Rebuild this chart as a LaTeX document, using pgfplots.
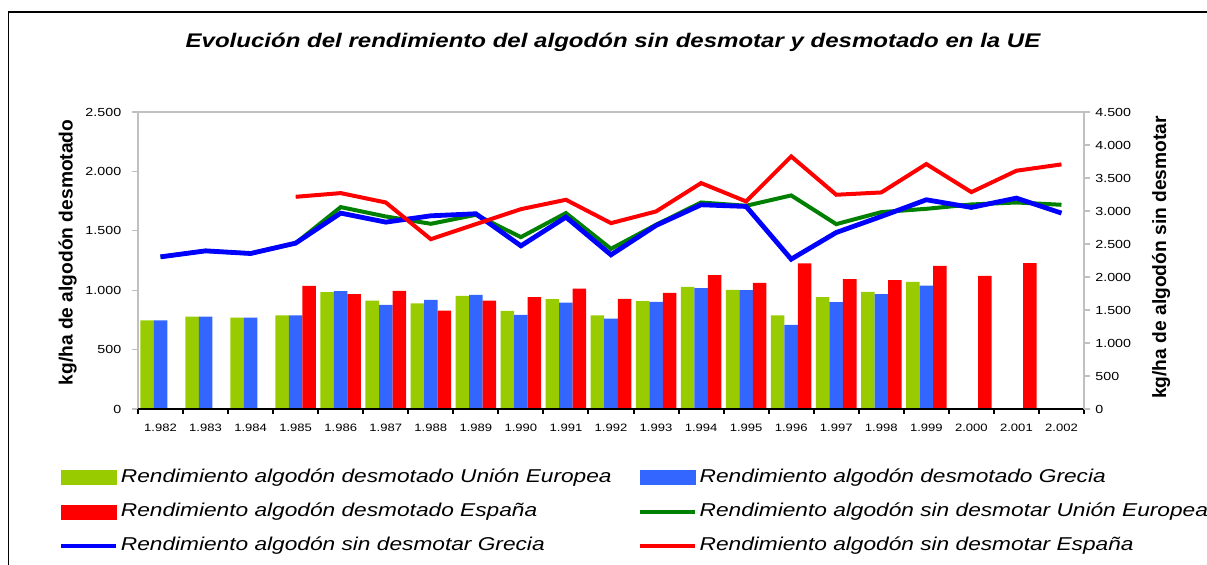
\documentclass[border=0pt]{standalone}
\usepackage{fontspec}
\setmainfont[FakeStretch=1.22]{Liberation Sans}
\newfontfamily\labfont{Liberation Sans}
\usepackage{pgfplots}
\usepackage{pgfplotstable}
\pgfplotsset{compat=1.18}
\definecolor{barG}{HTML}{99CC00}
\definecolor{barB}{HTML}{3366FF}
\definecolor{barR}{HTML}{FF0000}
\definecolor{linG}{HTML}{008000}
\definecolor{linB}{HTML}{0000FF}
\definecolor{linR}{HTML}{FF0000}
\definecolor{axgray}{HTML}{C0C0C0}

\pgfplotstableread{
x ueb grb esb uel grl esl
0 745 745 nan 2305 2305 nan
1 778 778 nan 2396 2396 nan
2 770 770 nan 2356 2356 nan
3 787 787 1037 2513 2513 3215
4 983 992 966 3059 2968 3271
5 913 876 994 2917 2831 3129
6 888 919 829 2806 2927 2573
7 952 961 913 2942 2958 2801
8 826 792 941 2604 2472 3028
9 924 896 1014 2968 2907 3170
10 789 761 927 2427 2336 2816
11 907 902 978 2791 2781 2993
12 1028 1017 1126 3129 3094 3423
13 1003 1000 1062 3079 3069 3145
14 789 708 1225 3236 2270 3827
15 941 899 1093 2801 2674 3246
16 986 966 1084 2983 2917 3281
17 1070 1039 1205 3033 3170 3711
18 nan nan 1121 3099 3054 3286
19 nan nan 1228 3129 3195 3610
20 nan nan nan 3094 2968 3706
}\data

\pgfplotsset{
  barsw/.style={legend image code/.code={\fill[#1] (0pt,-3.5pt) rectangle (27.5pt,3.5pt);}},
  linesw/.style={legend image code/.code={\draw[#1, line width=2pt] (0pt,0pt) -- (27.5pt,0pt);}},
}

\begin{document}
\begin{tikzpicture}
\useasboundingbox (0,0) rectangle (603.5pt,282.5pt);
\draw[black, line width=0.6pt] (4.15pt,-2pt) -- (4.15pt,276.5pt) -- (606pt,276.5pt);
\node[font=\fontsize{9.85}{11}\selectfont\bfseries\itshape, anchor=base] at (306.5pt,258.85pt)
  {Evolución del rendimiento del algodón sin desmotar y desmotado en la UE};

% bars, left axis
\begin{axis}[
  at={(69pt,78pt)}, anchor=south west, scale only axis,
  width=473pt, height=148.5pt,
  xmin=-0.5, xmax=20.5, ymin=0, ymax=2500,
  xtick=\empty,
  ytick={0,500,...,2500},
  ytick pos=left,
  tick align=outside,
  major tick length=3pt,
  every tick/.style={axgray, line width=0.6pt},
  axis line style={axgray, line width=0.75pt},
  /pgf/number format/assume math mode=true,
  /pgf/number format/1000 sep={.},
  yticklabel style={font=\fontsize{5.85}{7}\selectfont, inner sep=0pt, xshift=-5.2pt},
  ylabel={\labfont\bfseries kg/ha de algodón desmotado},
  ylabel style={font=\fontsize{9.6}{11}\selectfont, at={(axis description cs:-0.069,0.527)}, anchor=base, rotate=0},
  ybar, bar width=0.3,
  clip=false,
]
\addplot[fill=barG, draw=none, bar shift=-0.3] table[x=x, y=ueb] {\data};
\addplot[fill=barB, draw=none, bar shift=0] table[x=x, y=grb] {\data};
\addplot[fill=barR, draw=none, bar shift=0.3] table[x=x, y=esb] {\data};
\end{axis}

% lines, right axis
\begin{axis}[
  at={(69pt,78pt)}, anchor=south west, scale only axis,
  width=473pt, height=148.5pt,
  xmin=-0.5, xmax=20.5, ymin=0, ymax=4500,
  axis x line*=bottom, axis y line*=right,
  x axis line style={black, line width=1pt, -},
  y axis line style={axgray, line width=0.75pt, -},
  xtick={0,...,20},
  xticklabels={1.982,1.983,1.984,1.985,1.986,1.987,1.988,1.989,1.990,1.991,1.992,1.993,1.994,1.995,1.996,1.997,1.998,1.999,2.000,2.001,2.002},
  major x tick style={draw=none},
  minor xtick={-0.5,0.5,...,20.5},
  minor x tick style={black, line width=1pt},
  minor tick length=2.5pt,
  xticklabel style={font=\fontsize{5.35}{6}\selectfont, inner sep=0pt, yshift=-4.5pt},
  ytick={0,500,...,4500},
  major y tick style={axgray, line width=0.6pt},
  tick align=outside,
  major tick length=3pt,
  /pgf/number format/assume math mode=true,
  /pgf/number format/1000 sep={.},
  yticklabel style={font=\fontsize{5.85}{7}\selectfont, inner sep=0pt, xshift=2.5pt},
  ylabel={\labfont\bfseries kg/ha de algodón sin desmotar},
  ylabel style={font=\fontsize{9.6}{11}\selectfont, at={(axis description cs:1.0867,0.51)}, anchor=base, rotate=0},
  legend columns=2,
  legend style={at={(axis description cs:-0.0835,-0.1936)}, anchor=north west, draw=none, fill=none,
    inner sep=0pt, font=\fontsize{9.3}{10}\selectfont\itshape,
    nodes={inner sep=1.25pt, text height=6.5pt, text depth=1.9pt},
    row sep=6.2pt,
    /tikz/every odd column/.append style={column sep=0pt},
    /tikz/every even column/.append style={column sep=12pt}},
  legend cell align=left,
  clip=false,
]
\addlegendimage{barsw=barG}
\addlegendentry{Rendimiento algodón desmotado Unión Europea}
\addlegendimage{barsw=barB}
\addlegendentry{Rendimiento algodón desmotado Grecia}
\addlegendimage{barsw=barR}
\addlegendentry{Rendimiento algodón desmotado España}
\addplot[linG, line width=2pt, linesw=linG] table[x=x, y=uel] {\data};
\addlegendentry{Rendimiento algodón sin desmotar Unión Europea}
\addplot[linB, line width=2.4pt, linesw=linB] table[x=x, y=grl] {\data};
\addlegendentry{Rendimiento algodón sin desmotar Grecia}
\addplot[linR, line width=2pt, linesw=linR] table[x=x, y=esl] {\data};
\addlegendentry{Rendimiento algodón sin desmotar España}
\end{axis}
\end{tikzpicture}
\end{document}
